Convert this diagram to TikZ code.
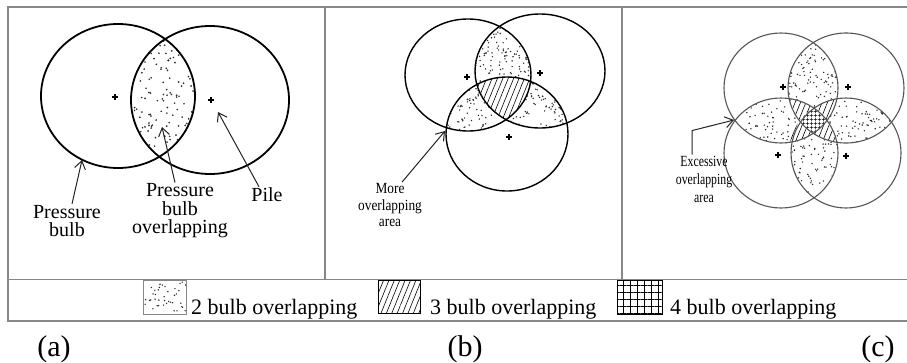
\documentclass[tikz,border=0pt]{standalone}
\usepackage{fontspec}
\setmainfont{Liberation Serif}
\newfontfamily\labelB[FakeStretch=0.86]{Liberation Serif}
\newfontfamily\labelC[FakeStretch=0.76]{Liberation Serif}
\usetikzlibrary{arrows.meta,patterns.meta}
\definecolor{framec}{RGB}{135,135,135}
\definecolor{inkc}{RGB}{35,35,35}
\definecolor{thinc}{RGB}{85,85,85}
\definecolor{dotc}{RGB}{45,45,45}
\tikzset{
  frameline/.style = {draw=framec, line width=1.1pt},
  bulbA/.style     = {draw=black, line width=1.8pt},
  bulbB/.style     = {draw=black, line width=1.4pt},
  bulbC/.style     = {draw=thinc, line width=1.1pt},
  pointer/.style   = {draw=inkc, line width=1pt, -{Straight Barb[length=8pt,width=11pt]}},
  lblA/.style      = {align=center, inner sep=1pt, font=\fontsize{20}{18.5}\selectfont},
  lblB/.style      = {align=center, inner sep=1pt, font=\labelB\fontsize{15.5}{16.5}\selectfont},
  lblC/.style      = {align=center, inner sep=1pt, font=\labelC\fontsize{15.5}{18}\selectfont},
  legtext/.style   = {anchor=base west, inner sep=0pt, font=\fontsize{22}{24}\selectfont},
  panel/.style     = {anchor=base, inner sep=0pt, font=\fontsize{30}{32}\selectfont},
  threeway/.style  = {pattern={Lines[angle=68,distance=5pt,line width=0.6pt]}},
  fourway/.style   = {pattern={Hatch[angle=0,distance=4pt,line width=0.5pt]}},
  pilemark/.pic    = {\draw[line width=1.1pt] (-3,0) -- (3,0) (0,-3) -- (0,3);},
}
% random stipple inside the current clip: x0 y0 x1 y1 count radius
\newcommand{\stipple}[6]{%
  \foreach \k in {1,...,#5}{%
    \pgfmathsetmacro{\sx}{#1+rnd*(#3-#1)}%
    \pgfmathsetmacro{\sy}{#2+rnd*(#4-#2)}%
    \fill[dotc] (\sx,\sy) circle (#6);
  }}

\begin{document}
\begin{tikzpicture}[x=1pt, y=-1pt]
\pgfmathsetseed{11}
\useasboundingbox (0,0) rectangle (907,362);

% frame and panel dividers
\draw[frameline] (907,7) -- (8,7) -- (8,321) -- (907,321);
\draw[frameline] (8,279.5) -- (907,279.5);
\draw[frameline] (325,7) -- (325,279.5);
\draw[frameline] (622,7) -- (622,279.5);

% (a) two piles
\begin{scope}
  \clip (118,96) ellipse [x radius=77, y radius=72];
  \clip (210,100) ellipse [x radius=79, y radius=74];
  \stipple{128}{25}{197}{170}{160}{0.95}
\end{scope}
\draw[bulbA] (118,96) ellipse [x radius=77, y radius=72];
\draw[bulbA] (210,100) ellipse [x radius=79, y radius=74];
\pic at (115,97) {pilemark};
\pic at (211,100) {pilemark};

\node[lblA] (bulbl) at (67,221) {Pressure\\bulb};
\node[lblA] (lensl) at (180,211) {Pressure\\bulb\\overlapping};
\node[lblA] (pilel) at (267,195) {Pile};
\coordinate (bulbtip) at (82,160);
\coordinate (lenstip) at (162,127);
\coordinate (piletip) at (218,112);
\draw[pointer] ([xshift=5pt]bulbl.north) -- (bulbtip);
\draw[pointer] ([xshift=-5pt]lensl.north) -- (lenstip);
\draw[pointer] ([xshift=-8pt]pilel.north) -- (piletip);

% (b) three piles
\begin{scope}
  \clip (468,75) ellipse [x radius=63, y radius=56];
  \clip (540,71) ellipse [x radius=65, y radius=57];
  \stipple{472}{12}{533}{92}{190}{0.8}
\end{scope}
\begin{scope}
  \clip (468,75) ellipse [x radius=63, y radius=56];
  \clip (507,134) ellipse [x radius=61, y radius=57];
  \stipple{444}{75}{512}{134}{150}{0.8}
\end{scope}
\begin{scope}
  \clip (540,71) ellipse [x radius=65, y radius=57];
  \clip (507,134) ellipse [x radius=61, y radius=57];
  \stipple{498}{75}{569}{130}{150}{0.8}
\end{scope}
\begin{scope}
  \clip (468,75) ellipse [x radius=63, y radius=56];
  \clip (540,71) ellipse [x radius=65, y radius=57];
  \clip (507,134) ellipse [x radius=61, y radius=57];
  \fill[white] (440,10) rectangle (570,140);
  \fill[threeway] (440,10) rectangle (570,140);
\end{scope}
\draw[bulbB] (468,75) ellipse [x radius=63, y radius=56];
\draw[bulbB] (540,71) ellipse [x radius=65, y radius=57];
\draw[bulbB] (507,134) ellipse [x radius=61, y radius=57];
\pic[scale=0.9] at (467,77) {pilemark};
\pic[scale=0.9] at (540,73) {pilemark};
\pic[scale=0.9] at (509,137) {pilemark};

\node[lblB] (morel) at (390,205) {More\\overlapping\\area};
\coordinate (moretip) at (445,131);
\draw[pointer] ([xshift=12pt]morel.north) -- (moretip);

% (c) four piles
\begin{scope}
  \clip (781,88) ellipse [x radius=57, y radius=55];
  \clip (846,88) ellipse [x radius=58, y radius=55];
  \stipple{786}{30}{840}{145}{190}{0.8}
\end{scope}
\begin{scope}
  \clip (781,88) ellipse [x radius=57, y radius=55];
  \clip (781,153) ellipse [x radius=57, y radius=55];
  \stipple{722}{95}{840}{146}{175}{0.8}
\end{scope}
\begin{scope}
  \clip (846,88) ellipse [x radius=58, y radius=55];
  \clip (846,153) ellipse [x radius=55, y radius=55];
  \stipple{786}{95}{906}{146}{175}{0.8}
\end{scope}
\begin{scope}
  \clip (781,153) ellipse [x radius=57, y radius=55];
  \clip (846,153) ellipse [x radius=55, y radius=55];
  \stipple{786}{95}{840}{210}{190}{0.8}
\end{scope}
\foreach \ca/\cb/\cc in {{(781,88)}/{(846,88)}/{(781,153)}, {(781,88)}/{(846,88)}/{(846,153)},
                         {(781,88)}/{(781,153)}/{(846,153)}, {(846,88)}/{(781,153)}/{(846,153)}}{
  \begin{scope}
    \clip \ca ellipse [x radius=57, y radius=55];
    \clip \cb ellipse [x radius=57, y radius=55];
    \clip \cc ellipse [x radius=57, y radius=55];
    \fill[white] (760,60) rectangle (870,180);
    \fill[threeway] (760,60) rectangle (870,180);
  \end{scope}
}
\begin{scope}
  \clip (781,88) ellipse [x radius=57, y radius=55];
  \clip (846,88) ellipse [x radius=57, y radius=55];
  \clip (781,153) ellipse [x radius=57, y radius=55];
  \clip (846,153) ellipse [x radius=57, y radius=55];
  \fill[white] (780,90) rectangle (850,150);
  \fill[fourway] (780,90) rectangle (850,150);
\end{scope}
\draw[bulbC] (781,88) ellipse [x radius=57, y radius=55];
\draw[bulbC] (846,88) ellipse [x radius=58, y radius=55];
\draw[bulbC] (781,153) ellipse [x radius=57, y radius=55];
\draw[bulbC] (846,153) ellipse [x radius=55, y radius=55];
\pic[scale=0.85] at (783,87) {pilemark};
\pic[scale=0.85] at (848,87) {pilemark};
\pic[scale=0.85] at (778,155) {pilemark};
\pic[scale=0.85] at (846,156) {pilemark};

\node[lblC] (excl) at (704,179) {Excessive\\overlapping\\area};
\coordinate (exctip) at (734,120);
\draw[pointer] ([xshift=-12pt]excl.north) -- ++(0,-24) -- (exctip);

% legend
\begin{scope}
  \clip (143,280) rectangle (186,314);
  \stipple{143}{280}{186}{314}{40}{0.8}
\end{scope}
\draw[draw=framec, line width=1pt] (143,280) rectangle (186,314);
\draw[draw=black, line width=1pt, threeway] (378,280) rectangle (420,313);
\draw[draw=black, line width=1pt, pattern={Hatch[angle=0,distance=7pt,line width=0.6pt]}] (617,280) rectangle (662,314);
\node[legtext] (two) at (191,314) {2 bulb overlapping};
\node[legtext] (three) at (430,314) {3 bulb overlapping};
\node[legtext] (four) at (670,314) {4 bulb overlapping};

% panel letters
\node[panel] (pa) at (54,356) {(a)};
\node[panel] (pb) at (465,356) {(b)};
\node[panel] (pc) at (878,356) {(c)};
\end{tikzpicture}
\end{document}
